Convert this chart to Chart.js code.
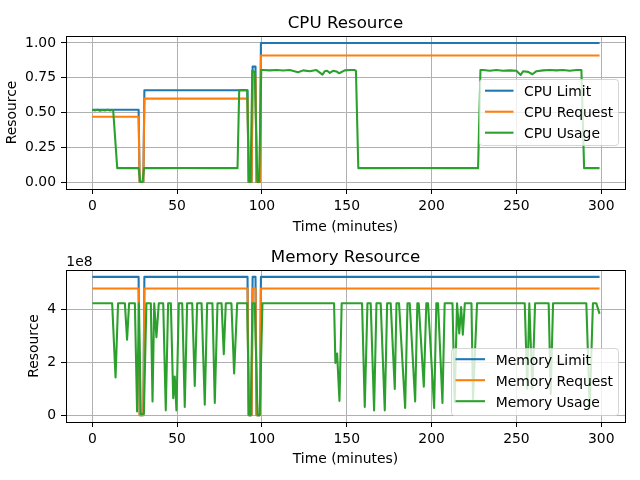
<!DOCTYPE html>
<html><head><meta charset="utf-8">
<script src="https://cdn.jsdelivr.net/npm/chart.js@4.4.0/dist/chart.umd.min.js"></script>
<style>
html,body{margin:0;padding:0;background:#fff;}
#wrap{position:relative;width:640px;height:480px;}
.c{position:absolute;left:0;width:640px;height:240px;}
</style></head><body>
<div id="wrap">
<div class="c" style="top:0"><canvas id="cpu" width="640" height="240"></canvas></div>
<div class="c" style="top:240px"><canvas id="mem" width="640" height="240"></canvas></div>
</div>
<script>
// ---- tick labels ----
const xTicks = [0, 50, 100, 150, 200, 250, 300];
const cpuTicks = [0, 0.25, 0.5, 0.75, 1.0];
const memTicks = [0, 2e8, 4e8];

// ---- CPU series: [minute, cores] ----
const cpuLimit = [[0,0.52],[27.3,0.52],[27.9,0],[30.1,0],[30.7,0.66],[91.5,0.66],[92.1,0],[93.9,0],[94.5,0.83],[96.2,0.83],[96.8,0],[98.8,0],[99.4,1.0],[299,1.0]];
const cpuRequest = [[0,0.47],[27.3,0.47],[27.9,0],[30.1,0],[30.7,0.60],[91.5,0.60],[92.1,0],[93.9,0],[94.5,0.76],[96.2,0.76],[96.8,0],[98.8,0],[99.4,0.91],[299,0.91]];
const cpuUsage = [[0,0.52],[1.5,0.515],[3,0.52],[4.5,0.512],[6,0.518],[7.5,0.515],[9,0.52],[10.5,0.515],[12.3,0.518],[14.7,0.1],[20,0.101],[27.3,0.1],[28.3,0],[29.6,0],[30.5,0.1],[40,0.1],[55,0.101],[70,0.1],[85.6,0.1],[86.6,0.66],[89,0.662],[91.3,0.66],[92.4,0],[93.3,0],[94.3,0.8],[95.8,0.79],[97.3,0],[98.3,0],[99.6,0.805],[100.7,0.806],[104.6,0.803],[108.6,0.806],[112.5,0.802],[116.4,0.805],[121.3,0.79],[124.3,0.803],[128.2,0.797],[132.1,0.805],[135.7,0.772],[137.0,0.797],[138.4,0.8],[140.0,0.785],[141.9,0.8],[143.9,0.795],[145.5,0.782],[148.8,0.803],[151.8,0.806],[154.7,0.805],[155.4,0.8],[156.8,0.1],[170,0.1],[190,0.101],[210,0.1],[227.4,0.1],[228.8,0.805],[230.3,0.806],[234.3,0.8],[238.2,0.806],[242.1,0.8],[246.1,0.803],[250.0,0.8],[252.5,0.77],[253.9,0.797],[256.9,0.792],[259.4,0.775],[261.8,0.797],[265.7,0.803],[269.6,0.806],[273.6,0.803],[277.5,0.806],[281.4,0.8],[285.4,0.806],[288.3,0.806],[289.9,0.1],[295,0.1],[299,0.1]];

// ---- Memory series: [minute, value in units of 1e8 bytes] ----
const memScale = 1e8;
const memLimit = [[0,5.24],[27.3,5.24],[27.9,0],[30.1,0],[30.7,5.24],[91.5,5.24],[92.1,0],[93.9,0],[94.5,5.24],[96.2,5.24],[96.8,0],[98.8,0],[99.4,5.24],[299,5.24]];
const memRequest = [[0,4.8],[27.3,4.8],[27.9,0],[30.1,0],[30.7,4.8],[91.5,4.8],[92.1,0],[93.9,0],[94.5,4.8],[96.2,4.8],[96.8,0],[98.8,0],[99.4,4.8],[299,4.8]];
const memUsage = [[0,4.24],[11.7,4.24],[13.7,1.43],[15.2,4.24],[19.2,4.24],[20.5,2.86],[21.7,4.24],[25.1,4.24],[26.4,0.14],[27.5,4.24],[28.6,0.03],[30.4,0.05],[31.9,4.24],[34.5,4.24],[35.5,0.52],[36.5,4.24],[37.8,2.95],[39.2,4.24],[41.8,4.24],[43.3,0.18],[44.7,4.24],[46.3,4.24],[47.7,0.64],[48.6,1.46],[49.6,0.18],[51.0,4.24],[53.0,4.24],[54.5,0.31],[55.9,4.24],[58.9,4.24],[60.4,1.1],[61.8,4.24],[64.4,4.24],[66.3,0.39],[67.7,4.24],[70.8,4.24],[72.2,0.46],[73.8,4.24],[76.2,4.24],[77.5,2.31],[78.7,4.24],[82.0,4.24],[83.6,1.58],[85.4,4.24],[91.3,4.24],[92.4,0],[93.4,0],[94.4,4.24],[95.8,4.24],[97.4,0],[98.7,0],[100.3,4.24],[142.5,4.24],[143.3,1.98],[144.3,2.33],[145.7,0.54],[147.0,4.24],[159.0,4.24],[160.6,0.31],[162.2,4.24],[164.1,4.24],[166.1,0.18],[167.5,4.24],[170.0,4.24],[172.4,0.18],[173.8,4.24],[175.9,4.24],[178.3,0.99],[179.3,4.24],[180.8,4.24],[184.4,0.27],[185.8,4.24],[187.1,4.24],[190.3,0.52],[191.6,4.24],[192.4,4.24],[195.4,1.08],[196.9,4.24],[197.9,4.24],[201.5,0.27],[202.8,4.24],[203.8,4.24],[206.4,0.46],[207.7,4.24],[212.3,4.24],[213.6,0.5],[215.0,4.24],[216.3,3.1],[217.4,4.1],[218.4,3.05],[219.6,4.24],[223.5,4.24],[224.4,0.6],[226.8,4.24],[254.9,4.24],[256.4,1.0],[257.6,4.24],[259.4,1.0],[261.0,4.24],[269.0,4.24],[270.2,0.8],[271.6,4.24],[291.2,4.24],[293.2,0.25],[295.1,4.24],[297.1,4.24],[299,3.84]];

const C_BLUE = '#1f77b4', C_ORANGE = '#ff7f0e', C_GREEN = '#2ca02c';
const FONT = "'DejaVu Sans', 'Liberation Sans', sans-serif";
const LINE_W = 2.08;
Chart.defaults.font.family = FONT;

const pts = (pairs, k) => pairs.map(([t, v]) => ({x: t, y: v * (k || 1)}));
function ds(label, pairs, color, order, k) {
  return {label, data: pts(pairs, k), borderColor: color, backgroundColor: color,
    borderWidth: LINE_W, pointRadius: 0, fill: false, tension: 0, order,
    borderJoinStyle: 'round', borderCapStyle: 'butt'};
}

function decor(cfg) {
  return {
    id: 'decor_' + cfg.id,
    afterDatasetsDraw(chart) {
      const {ctx, chartArea: a} = chart;
      ctx.save();
      ctx.strokeStyle = '#000'; ctx.lineWidth = 1;
      ctx.strokeRect(a.left + 0.5, a.top + 0.5, a.right - a.left, a.bottom - a.top);
      ctx.restore();
    },
    afterDraw(chart) {
      const {ctx, chartArea: a} = chart;
      ctx.save();
      ctx.fillStyle = '#000';
      ctx.font = '16.67px ' + FONT;
      ctx.textAlign = 'center'; ctx.textBaseline = 'alphabetic';
      ctx.fillText(cfg.title, (a.left + a.right) / 2, cfg.titleY);
      if (cfg.offsetText) {
        ctx.font = '13.9px ' + FONT;
        ctx.textAlign = 'left';
        ctx.fillText(cfg.offsetText, a.left + 0.3, cfg.offsetY);
      }
      // legend
      const L = cfg.legend;
      const x0 = L.x0, y0 = L.y0, w = L.x1 - L.x0, h = L.y1 - L.y0, r = 3;
      ctx.beginPath();
      ctx.moveTo(x0 + r, y0);
      ctx.lineTo(x0 + w - r, y0); ctx.arcTo(x0 + w, y0, x0 + w, y0 + r, r);
      ctx.lineTo(x0 + w, y0 + h - r); ctx.arcTo(x0 + w, y0 + h, x0 + w - r, y0 + h, r);
      ctx.lineTo(x0 + r, y0 + h); ctx.arcTo(x0, y0 + h, x0, y0 + h - r, r);
      ctx.lineTo(x0, y0 + r); ctx.arcTo(x0, y0, x0 + r, y0, r);
      ctx.closePath();
      ctx.fillStyle = 'rgba(255,255,255,0.8)'; ctx.fill();
      ctx.strokeStyle = 'rgba(204,204,204,0.8)'; ctx.lineWidth = 1; ctx.stroke();
      ctx.font = '13.9px ' + FONT;
      ctx.textAlign = 'left'; ctx.textBaseline = 'alphabetic';
      const sets = chart.data.datasets;
      sets.forEach((d, i) => {
        const y = L.rows[i];
        ctx.beginPath();
        ctx.moveTo(L.hx0, y); ctx.lineTo(L.hx1, y);
        ctx.strokeStyle = d.borderColor; ctx.lineWidth = LINE_W; ctx.stroke();
        ctx.fillStyle = '#000';
        ctx.fillText(d.label, L.tx, y + 5.4);
      });
      ctx.restore();
    }
  };
}

const tickFont = {family: FONT, size: 13.9};
const labelFont = {family: FONT, size: 13.9, lineHeight: 1};
const gridOpt = {color: '#b0b0b0', lineWidth: 1, tickColor: '#000', tickLength: 5, tickWidth: 1, drawTicks: true};

function makeChart(id, datasets, o) {
  return new Chart(document.getElementById(id), {
    type: 'line',
    data: {datasets},
    options: {
      responsive: false, animation: false, devicePixelRatio: 1,
      layout: {padding: {top: o.padTop, right: 15, left: 0, bottom: 0}},
      plugins: {legend: {display: false}, title: {display: false}, tooltip: {enabled: false}},
      scales: {
        x: {
          type: 'linear', min: -15.5, max: 314,
          afterBuildTicks: s => { s.ticks = xTicks.map(v => ({value: v})); },
          afterFit: s => { s.height = o.xH; },
          ticks: {font: tickFont, color: '#000', padding: 4, maxRotation: 0, autoSkip: false,
                  callback: v => String(v)},
          grid: gridOpt, border: {display: false},
          title: {display: true, text: 'Time (minutes)', font: labelFont, color: '#000',
                  padding: {top: 0, bottom: o.xTitlePad}}
        },
        y: {
          type: 'linear', min: o.yMin, max: o.yMax,
          afterBuildTicks: s => { s.ticks = o.yTicks.map(v => ({value: v})); },
          afterFit: s => { s.width = 66; },
          ticks: {font: tickFont, color: '#000', padding: 5, autoSkip: false, callback: o.yFmt},
          grid: gridOpt, border: {display: false},
          title: {display: true, text: 'Resource', font: labelFont, color: '#000',
                  padding: {top: o.yTitlePad, bottom: 0}}
        }
      }
    },
    plugins: [decor(o.decor)]
  });
}

makeChart('cpu', [
  ds('CPU Limit', cpuLimit, C_BLUE, 3),
  ds('CPU Request', cpuRequest, C_ORANGE, 2),
  ds('CPU Usage', cpuUsage, C_GREEN, 1)
], {
  padTop: 36, xH: 51, xTitlePad: 6, yTitlePad: 5.9,
  yMin: -0.05, yMax: 1.05, yTicks: cpuTicks, yFmt: v => Number(v).toFixed(2),
  decor: {id: 'cpu', title: 'CPU Resource', titleY: 28,
    legend: {x0: 479.5, y0: 79.5, x1: 618.5, y1: 145.5, hx0: 485, hx1: 513.5, tx: 524,
             rows: [90.7, 111.7, 132.7]}}
});

makeChart('mem', [
  ds('Memory Limit', memLimit, C_BLUE, 3, memScale),
  ds('Memory Request', memRequest, C_ORANGE, 2, memScale),
  ds('Memory Usage', memUsage, C_GREEN, 1, memScale)
], {
  padTop: 30, xH: 58, xTitlePad: 13.2, yTitlePad: 27.9,
  yMin: -0.262e8, yMax: 5.502e8, yTicks: memTicks, yFmt: v => String(Math.round(v / 1e8)),
  decor: {id: 'mem', title: 'Memory Resource', titleY: 22, offsetText: '1e8', offsetY: 25.6,
    legend: {x0: 451.5, y0: 108.5, x1: 618.5, y1: 175.5, hx0: 455.5, hx1: 485, tx: 495.7,
             rows: [119.2, 140.2, 161.2]}}
});
</script>
</body></html>
